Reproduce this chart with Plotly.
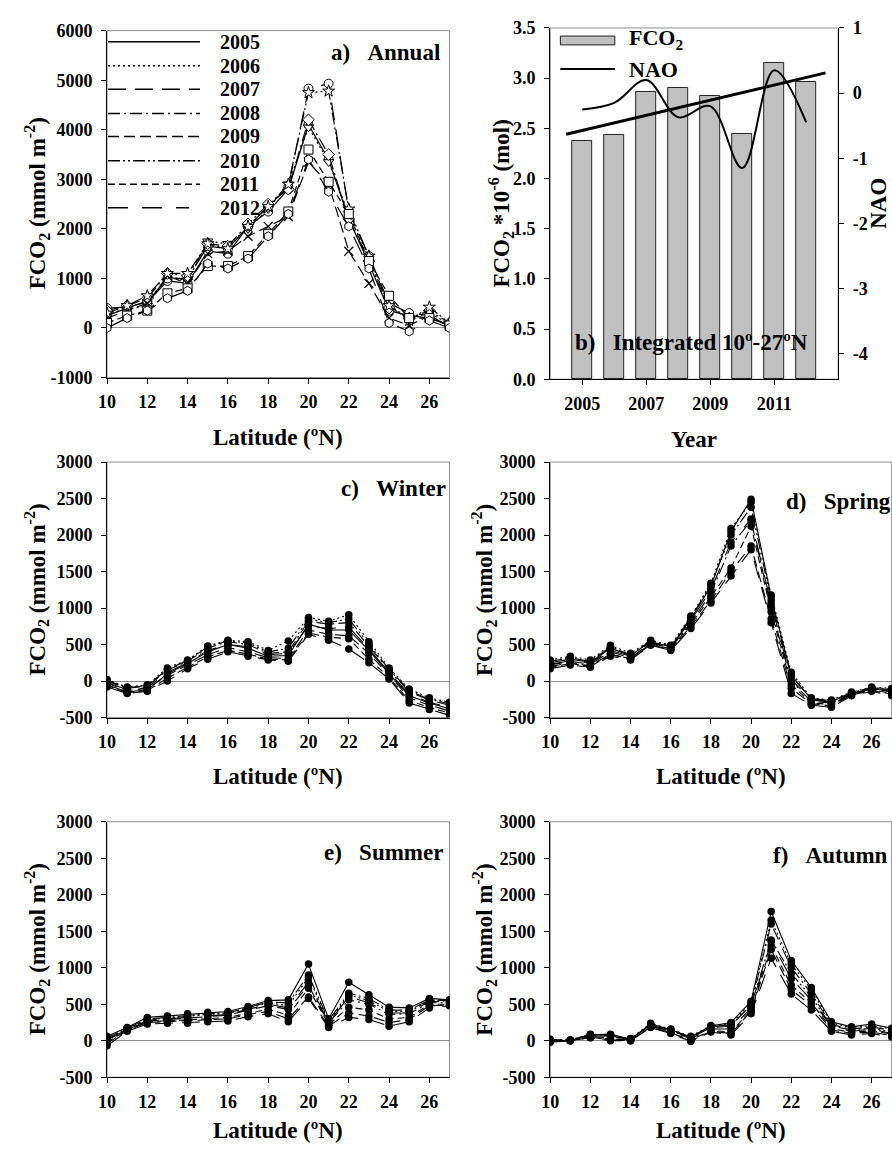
import numpy as np
import plotly.graph_objects as go

W, H = 892, 1158
FONT = "Liberation Serif"

lats = list(range(10, 28))
years = [2005, 2006, 2007, 2008, 2009, 2010, 2011, 2012]
year_labels = ["2005", "2006", "2007", "2008", "2009", "2010", "2011", "2012"]

annual_ticks = [-1000, 0, 1000, 2000, 3000, 4000, 5000, 6000]
annual_ticktext = ["-1000", "0", "1000", "2000", "3000", "4000", "5000", "6000"]
season_ticks = [-500, 0, 500, 1000, 1500, 2000, 2500, 3000]
season_ticktext = ["-500", "0", "500", "1000", "1500", "2000", "2500", "3000"]
nao_ticks = [-4, -3, -2, -1, 0, 1]
nao_ticktext = ["-4", "-3", "-2", "-1", "0", "1"]

annual = {
    2005: [400, 420, 520, 950, 900, 1550, 1500, 2050, 2350, 2800, 4100, 3400, 2200, 1300, 350, 250, 200, 50],
    2006: [300, 380, 450, 1050, 950, 1750, 1700, 2000, 2400, 2900, 4050, 3350, 2300, 1400, 450, 200, 300, 80],
    2007: [250, 400, 550, 1000, 1000, 1650, 1600, 2050, 2450, 2850, 4830, 4930, 2350, 1450, 500, 300, 250, 50],
    2008: [350, 450, 600, 1100, 1050, 1700, 1650, 2100, 2500, 2800, 4200, 3500, 2200, 1350, 400, 200, 350, 100],
    2009: [200, 350, 500, 1050, 900, 1500, 1550, 1850, 2050, 2250, 3350, 2900, 1550, 900, 200, 50, 250, 30],
    2010: [300, 450, 650, 1100, 1100, 1700, 1600, 2050, 2450, 2900, 4750, 4780, 2400, 1450, 450, 150, 420, 100],
    2011: [100, 250, 350, 700, 800, 1250, 1250, 1450, 1900, 2350, 3600, 2950, 2300, 1350, 650, 200, 200, 50],
    2012: [0, 200, 350, 600, 750, 1300, 1200, 1400, 1850, 2300, 3400, 2750, 2050, 1200, 100, -70, 150, 0],
}

winter = {
    2005: [-50, -150, -120, 100, 240, 400, 500, 450, 340, 350, 780, 700, 700, 420, 100, -200, -300, -380],
    2006: [20, -80, -50, 180, 290, 480, 560, 540, 420, 550, 870, 820, 910, 540, 180, -110, -230, -290],
    2007: [-80, -170, -140, 0, 170, 300, 400, 340, 290, 270, 640, 560, 440, 250, 30, -300, -390, -470],
    2008: [0, -100, -70, 150, 270, 450, 540, 500, 380, 400, 820, 780, 800, 480, 150, -150, -260, -330],
    2009: [-30, -130, -100, 80, 220, 360, 460, 400, 320, 310, 700, 640, 620, 380, 80, -230, -330, -410],
    2010: [10, -90, -60, 160, 280, 470, 550, 520, 400, 450, 850, 800, 850, 510, 160, -130, -250, -310],
    2011: [-60, -160, -130, 40, 190, 330, 420, 370, 300, 290, 660, 600, 580, 300, 50, -270, -360, -440],
    2012: [-20, -120, -90, 120, 250, 420, 500, 470, 360, 380, 760, 720, 740, 440, 120, -180, -290, -360],
}

spring = {
    2005: [250, 300, 260, 450, 350, 540, 470, 850, 1300, 2050, 2490, 1150, 80, -250, -280, -170, -100, -120],
    2006: [290, 340, 290, 490, 380, 560, 490, 890, 1340, 2090, 2450, 1180, 120, -230, -260, -150, -80, -100],
    2007: [170, 220, 190, 340, 290, 490, 420, 720, 1070, 1440, 1800, 800, -170, -330, -360, -200, -140, -200],
    2008: [220, 270, 230, 400, 320, 520, 450, 800, 1200, 1850, 2200, 1000, 0, -280, -300, -180, -110, -150],
    2009: [200, 250, 210, 370, 300, 500, 430, 750, 1100, 1500, 1850, 850, -100, -310, -340, -190, -130, -180],
    2010: [270, 320, 270, 470, 360, 550, 480, 870, 1320, 2000, 2380, 1100, 60, -240, -270, -160, -90, -110],
    2011: [190, 240, 200, 360, 310, 510, 440, 780, 1150, 1550, 2120, 950, -50, -300, -320, -185, -120, -170],
    2012: [230, 280, 250, 420, 340, 530, 460, 830, 1250, 1900, 2220, 1050, 20, -260, -290, -175, -105, -140],
}

summer = {
    2005: [60, 180, 320, 340, 370, 390, 400, 470, 550, 560, 1050, 300, 800, 630, 460, 450, 580, 560],
    2006: [30, 160, 290, 310, 340, 360, 370, 440, 520, 480, 870, 260, 630, 550, 400, 400, 550, 540],
    2007: [-70, 130, 230, 240, 240, 260, 270, 330, 370, 260, 580, 180, 320, 290, 200, 260, 450, 480],
    2008: [10, 150, 270, 290, 310, 340, 350, 420, 480, 430, 760, 240, 560, 500, 360, 370, 520, 520],
    2009: [-40, 140, 250, 260, 270, 290, 300, 360, 400, 300, 600, 200, 380, 340, 250, 290, 480, 490],
    2010: [40, 170, 300, 320, 350, 370, 380, 450, 530, 520, 900, 280, 650, 580, 420, 420, 560, 550],
    2011: [-20, 145, 260, 270, 280, 300, 320, 380, 430, 350, 720, 220, 460, 420, 300, 320, 500, 500],
    2012: [20, 155, 280, 300, 320, 350, 360, 430, 500, 450, 800, 250, 600, 520, 380, 380, 540, 530],
}

autumn = {
    2005: [0, 5, 80, 90, 20, 230, 150, 50, 200, 250, 540, 1770, 1100, 730, 260, 190, 230, 170],
    2006: [20, 10, 90, 80, 30, 240, 160, 60, 210, 230, 520, 1650, 1050, 700, 240, 180, 210, 160],
    2007: [-20, 0, 40, 0, 0, 180, 100, -10, 120, 80, 370, 1130, 640, 420, 130, 80, 100, 50],
    2008: [10, 5, 70, 60, 20, 210, 140, 40, 180, 200, 500, 1600, 1000, 650, 220, 160, 190, 140],
    2009: [-10, 0, 50, 10, 0, 190, 110, 0, 130, 100, 400, 1250, 700, 480, 150, 100, 120, 70],
    2010: [15, 8, 85, 70, 25, 220, 150, 50, 190, 220, 480, 1380, 920, 600, 200, 150, 170, 120],
    2011: [-15, 2, 45, 20, 5, 185, 105, 10, 140, 120, 420, 1300, 760, 520, 170, 110, 140, 90],
    2012: [5, 4, 60, 40, 10, 200, 130, 30, 160, 160, 450, 1360, 850, 560, 190, 130, 160, 100],
}

fco2_total = [2.37, 2.435, 2.867, 2.90, 2.82, 2.44, 3.15, 2.96]
nao_index = [-0.25, -0.15, 0.2, -0.37, -0.2, -1.15, 0.35, -0.45]

dashes = {
    2005: "solid",
    2006: "2px,3px",
    2007: "18px,9px",
    2008: "12px,4px,2px,4px",
    2009: "11px,5px",
    2010: "12px,3px,2px,3px,2px,3px",
    2011: "7px,4px",
    2012: "20px,14px",
}
symbols = {
    2005: "circle", 2006: "triangle-down", 2007: "circle", 2008: "diamond",
    2009: "x-thin-open", 2010: "star", 2011: "square", 2012: "hexagon",
}


def px(x):
    return x / W


def py(y):
    return 1 - y / H


fig = go.Figure()

# ---- panel a (annual) ----
for yr in years:
    sym = symbols[yr]
    if sym.endswith("-open"):
        mk = dict(symbol=sym, size=9, color="black", line=dict(color="black", width=1.3))
    else:
        mk = dict(symbol=sym, size=9, color="white", line=dict(color="black", width=1))
    fig.add_trace(go.Scatter(x=lats, y=annual[yr], mode="lines+markers",
                             line=dict(color="black", width=1.2, dash=dashes[yr]),
                             marker=mk, xaxis="x", yaxis="y", showlegend=False))

# ---- panel b ----
fig.add_trace(go.Bar(x=years, y=fco2_total, width=0.62, marker=dict(color="#c0c0c0", line=dict(color="#222", width=1)),
                     xaxis="x2", yaxis="y2", showlegend=False))
coef = np.polyfit(years, fco2_total, 1)
tx = np.array([years[0] - 0.5, years[-1] + 0.6])
fig.add_trace(go.Scatter(x=tx, y=np.polyval(coef, tx), mode="lines", line=dict(color="black", width=3),
                         xaxis="x2", yaxis="y2", showlegend=False))
fig.add_trace(go.Scatter(x=years, y=nao_index, mode="lines", line=dict(color="black", width=2, shape="spline", smoothing=1.0),
                         xaxis="x2", yaxis="y3", showlegend=False))

# ---- seasonal panels ----
seasonal = [(winter, "x4", "y4"), (spring, "x5", "y5"), (summer, "x6", "y6"), (autumn, "x7", "y7")]
for data, xa, ya in seasonal:
    for yr in years:
        fig.add_trace(go.Scatter(x=lats, y=data[yr], mode="lines+markers",
                                 line=dict(color="black", width=1.1, dash=dashes[yr]),
                                 marker=dict(symbol="circle", size=7.5, color="black"),
                                 xaxis=xa, yaxis=ya, showlegend=False))

tickfont = dict(family=FONT, size=18, color="black", weight="bold")
common_axis = dict(showline=True, linecolor="black", linewidth=1, ticks="outside", ticklen=5,
                   tickcolor="black", showgrid=False, tickfont=tickfont)

colL = [px(99), px(445)]
colR = [px(546.7), px(837.7)]
colR2 = [px(546.7), px(891.7)]
row1 = [py(374), py(21)]
row1b = [py(375.7), py(18.3)]
row2 = [py(720), py(460)]
row3 = [py(1086), py(826)]

lat_x = dict(common_axis, range=[10, 27], tickvals=list(range(10, 27, 2)), zeroline=False, ticklabelstandoff=3)
seas_y = dict(common_axis, range=[-500, 3000], tickvals=season_ticks, ticktext=season_ticktext,
              zeroline=True, zerolinecolor="#8c8c8c", zerolinewidth=1, ticklabelstandoff=5)

fig.update_layout(
    width=W, height=H, margin=dict(l=0, r=0, t=0, b=0),
    paper_bgcolor="white", plot_bgcolor="white",
    font=dict(family=FONT, size=18, color="black", weight="bold"),
    xaxis=dict(lat_x, domain=colL, anchor="y"),
    yaxis=dict(common_axis, domain=row1, anchor="x", range=[-1000, 6000], tickvals=annual_ticks,
               ticktext=annual_ticktext, zeroline=True, zerolinecolor="#8c8c8c", zerolinewidth=1,
               ticklabelstandoff=5),
    xaxis2=dict(common_axis, domain=colR, anchor="y2", range=[2004, 2013], tickvals=[2005, 2007, 2009, 2011],
                zeroline=False, ticklabelstandoff=3),
    yaxis2=dict(common_axis, domain=row1b, anchor="x2", range=[0, 3.5], dtick=0.5, tickformat=".1f",
                zeroline=False, ticklabelstandoff=5),
    yaxis3=dict(common_axis, overlaying="y2", anchor="x2", side="right", range=[-4.39, 1],
                tickvals=nao_ticks, ticktext=nao_ticktext, zeroline=False, ticklabelstandoff=5),
    xaxis4=dict(lat_x, domain=colL, anchor="y4"),
    yaxis4=dict(seas_y, domain=row2, anchor="x4"),
    xaxis5=dict(lat_x, domain=colR2, anchor="y5"),
    yaxis5=dict(seas_y, domain=row2, anchor="x5"),
    xaxis6=dict(lat_x, domain=colL, anchor="y6"),
    yaxis6=dict(seas_y, domain=row3, anchor="x6"),
    xaxis7=dict(lat_x, domain=colR2, anchor="y7"),
    yaxis7=dict(seas_y, domain=row3, anchor="x7"),
    bargap=0,
)

shapes = []
# frames
for xa, ya in [("x", "y"), ("x2", "y2"), ("x4", "y4"), ("x5", "y5"), ("x6", "y6"), ("x7", "y7")]:
    shapes.append(dict(type="rect", xref=xa + " domain", yref=ya + " domain", x0=0, x1=1, y0=0, y1=1,
                       line=dict(color="#8c8c8c", width=1), layer="below"))

ann = []
titlefont = dict(family=FONT, size=23, color="black", weight="bold")
legfont = dict(family=FONT, size=20, color="black", weight="bold")

# legend in panel a
leg_y = [32.3, 56.7, 80.7, 105.3, 128.7, 153.3, 177.3, 201.3]
for yr, lab, yy in zip(years, year_labels, leg_y):
    x1 = 193 if yr != 2012 else 182
    shapes.append(dict(type="line", xref="paper", yref="paper", x0=px(100), x1=px(x1), y0=py(yy), y1=py(yy),
                       line=dict(color="black", width=1.5, dash=dashes[yr])))
    ann.append(dict(x=px(233), y=py(yy), xref="paper", yref="paper", text=lab, showarrow=False,
                    xanchor="center", yanchor="middle", font=legfont))

# legend in panel b
shapes.append(dict(type="rect", xref="paper", yref="paper", x0=px(557), x1=px(612), y0=py(35.5), y1=py(26.5),
                   fillcolor="#c0c0c0", line=dict(color="#222", width=1)))
shapes.append(dict(type="line", xref="paper", yref="paper", x0=px(557), x1=px(612), y0=py(60), y1=py(60),
                   line=dict(color="black", width=2)))
ann.append(dict(x=px(624), y=py(30), xref="paper", yref="paper", text="FCO<sub>2</sub>", showarrow=False,
                xanchor="left", yanchor="middle", font=dict(family=FONT, size=22, color="black", weight="bold")))
ann.append(dict(x=px(624), y=py(61), xref="paper", yref="paper", text="NAO", showarrow=False,
                xanchor="left", yanchor="middle", font=dict(family=FONT, size=22, color="black", weight="bold")))

NB = "\u00a0\u00a0\u00a0"
panel_titles = [
    ("a)" + NB + "Annual", 437, 43, "right"),
    ("b)" + NB + "Integrated 10º-27ºN", 689, 338, "center"),
    ("c)" + NB + "Winter", 443, 487, "right"),
    ("d)" + NB + "Spring", 783, 500, "left"),
    ("e)" + NB + "Summer", 440, 857, "right"),
    ("f)" + NB + "Autumn", 770, 860, "left"),
]
for txt, x, y, anc in panel_titles:
    ann.append(dict(x=px(x), y=py(y), xref="paper", yref="paper", text=txt, showarrow=False,
                    xanchor=anc, yanchor="middle", font=titlefont))

ytitle = "FCO<sub>2</sub> (mmol m<sup>-2</sup>)"
axis_titles = [
    (ytitle, 28, 197, -90),
    ("FCO<sub>2</sub> *10<sup>-6</sup> (mol)", 497, 197, -90),
    ("NAO", 878, 197, -90),
    (ytitle, 28, 590, -90),
    (ytitle, 480, 590, -90),
    (ytitle, 28, 956, -90),
    (ytitle, 480, 956, -90),
    ("Latitude (ºN)", 272, 435, 0),
    ("Year", 692, 437, 0),
    ("Latitude (ºN)", 272, 780, 0),
    ("Latitude (ºN)", 719, 780, 0),
    ("Latitude (ºN)", 272, 1140, 0),
    ("Latitude (ºN)", 719, 1140, 0),
]
for txt, x, y, ang in axis_titles:
    ann.append(dict(x=px(x), y=py(y), xref="paper", yref="paper", text=txt, showarrow=False,
                    xanchor="center", yanchor="middle", textangle=ang, font=titlefont))

fig.update_layout(shapes=shapes, annotations=ann)
fig.write_html("out.html")
